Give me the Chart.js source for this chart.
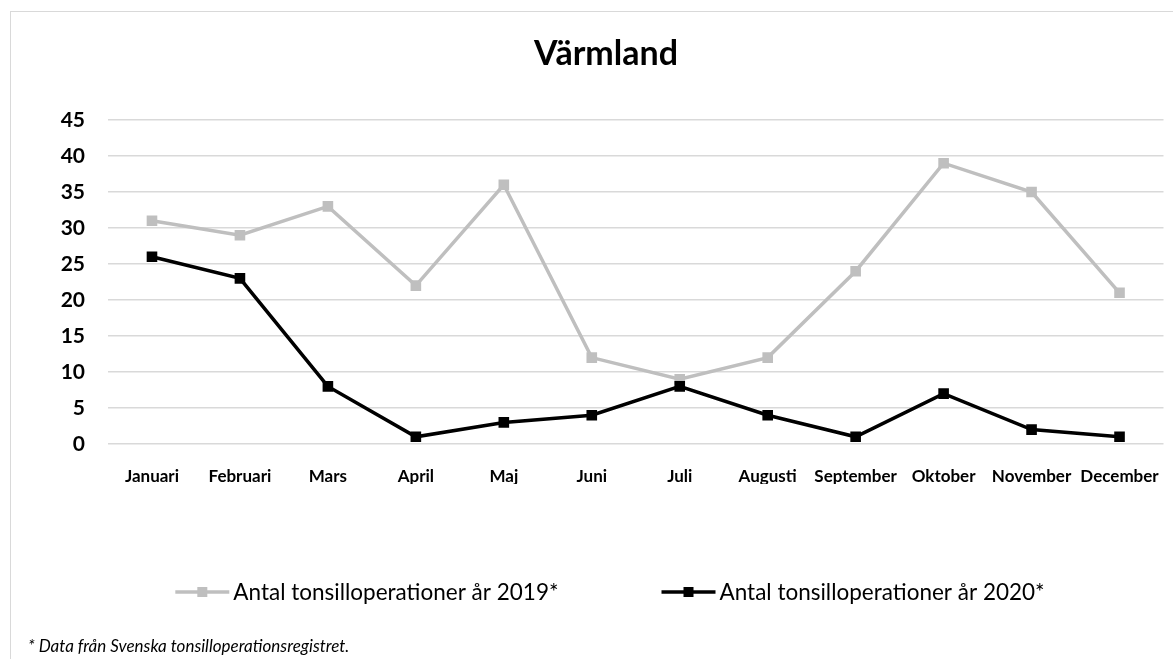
<!DOCTYPE html>
<html><head><meta charset="utf-8">
<script src="https://cdn.jsdelivr.net/npm/chart.js@4"></script>
<style>
html,body{margin:0;padding:0;background:#fff;overflow:hidden}
#wrap{position:relative;width:1173px;height:659px}
#frame{position:absolute;left:10px;top:11px;width:1220px;height:720px;border:1.5px solid #d9d9d9;box-sizing:border-box}
canvas{position:absolute;left:0;top:0}
</style></head><body>
<div id="wrap"><div id="frame"></div><canvas id="c" width="1173" height="659"></canvas></div>
<script>
const chartTitle = 'Värmland';
const months = ['Januari','Februari','Mars','April','Maj','Juni','Juli','Augusti','September','Oktober','November','December'];
const seriesNames = ['Antal tonsilloperationer år 2019*','Antal tonsilloperationer år 2020*'];
const values2019 = [31, 29, 33, 22, 36, 12, 9, 12, 24, 39, 35, 21];
const values2020 = [26, 23, 8, 1, 3, 4, 8, 4, 1, 7, 2, 1];
const yMin = 0, yMax = 45, yStep = 5;
const footnote = '* Data från Svenska tonsilloperationsregistret.';

const FONT = 'Lato';

const xlDecor = {
  id: 'xlDecor',
  afterDraw(chart) {
    const ctx = chart.ctx;
    ctx.save();
    // title
    ctx.font = 'bold 34px ' + FONT;
    ctx.fillStyle = '#000';
    ctx.textAlign = 'center';
    ctx.textBaseline = 'middle';
    ctx.fillText(chartTitle, 606, 54);
    // legend
    ctx.font = '22.5px ' + FONT;
    ctx.textAlign = 'left';
    const sample = 54, gap = 4, itemGap = 103;
    const dss = chart.data.datasets;
    let total = 0;
    dss.forEach((ds, i) => { total += sample + gap + ctx.measureText(ds.label).width; if (i) total += itemGap; });
    let x = 610 - total / 2;
    const y = 592;
    dss.forEach(ds => {
      ctx.strokeStyle = ds.borderColor;
      ctx.lineWidth = ds.borderWidth;
      ctx.beginPath(); ctx.moveTo(x, y); ctx.lineTo(x + sample, y); ctx.stroke();
      ctx.fillStyle = ds.pointBackgroundColor;
      ctx.fillRect(x + sample / 2 - 5, y - 5, 10, 10);
      ctx.fillStyle = '#000';
      ctx.fillText(ds.label, x + sample + gap, y + 1);
      x += sample + gap + ctx.measureText(ds.label).width + itemGap;
    });
    // footnote
    ctx.font = 'italic 17px ' + FONT;
    ctx.fillText(footnote, 28, 647);
    ctx.restore();
  }
};

new Chart(document.getElementById('c'), {
  type: 'line',
  data: {
    labels: months,
    datasets: [
      { label: seriesNames[0], data: values2019, borderColor: '#bfbfbf', backgroundColor: '#bfbfbf',
        pointBackgroundColor: '#bfbfbf', pointBorderColor: '#bfbfbf', borderWidth: 3.5,
        pointStyle: 'rect', pointRadius: 7.5, pointBorderWidth: 0, tension: 0, order: 1 },
      { label: seriesNames[1], data: values2020, borderColor: '#000000', backgroundColor: '#000000',
        pointBackgroundColor: '#000000', pointBorderColor: '#000000', borderWidth: 3.5,
        pointStyle: 'rect', pointRadius: 7.5, pointBorderWidth: 0, tension: 0, order: 0 }
    ]
  },
  options: {
    responsive: false, animation: false, devicePixelRatio: 1,
    layout: { padding: { left: 0, right: 3, top: 120, bottom: 175 } },
    plugins: {
      legend: { display: false },
      tooltip: { enabled: false },
      title: { display: false }
    },
    scales: {
      x: { type: 'category', offset: true,
        grid: { display: false }, border: { display: false },
        ticks: { color: '#000', font: { family: FONT, size: 17, weight: 'bold' }, padding: 14, maxRotation: 0, autoSkip: false },
        afterFit(s) { s.height = 40; } },
      y: { min: yMin, max: yMax,
        grid: { color: '#d9d9d9', lineWidth: 1.5, drawTicks: false }, border: { display: false },
        ticks: { stepSize: yStep, color: '#000', font: { family: FONT, size: 21, weight: 'bold' }, padding: 23 },
        afterFit(s) { s.width = 108; } }
    }
  },
  plugins: [xlDecor]
});
</script>
</body></html>
